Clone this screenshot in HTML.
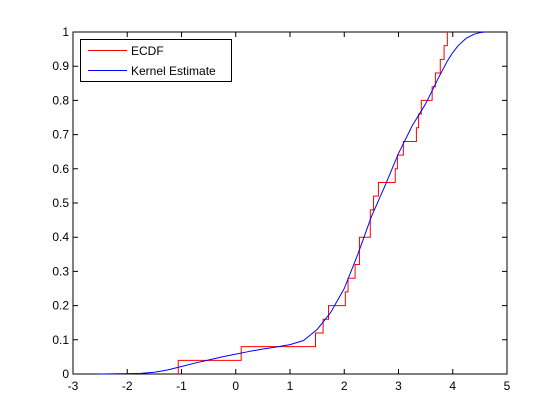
<!DOCTYPE html>
<html><head><meta charset="utf-8"><style>
body{margin:0;background:#fff;}
svg{display:block;font-family:"Liberation Sans",Arial,sans-serif;font-size:12px;}
</style></head><body>
<svg id="chart" width="560" height="420">
<rect x="0" y="0" width="560" height="420" fill="#fff"/>
<g id="plot"></g>
</svg>
<script>
const ecdfX = [-1.06,0.10,1.47,1.61,1.71,2.02,2.07,2.20,2.28,2.28,2.48,2.48,2.54,2.63,2.94,2.98,3.09,3.33,3.37,3.42,3.62,3.68,3.77,3.84,3.90];
const kernelX = [-2.5,-2.0,-1.75,-1.5,-1.25,-1.0,-0.75,-0.5,-0.25,0,0.25,0.5,0.75,1.0,1.25,1.5,1.75,2.0,2.25,2.5,2.75,3.0,3.25,3.5,3.75,3.9,4.0,4.1,4.25,4.4,4.5,4.6];
const kernelY = [0,0.001,0.002,0.005,0.012,0.022,0.032,0.041,0.05,0.058,0.066,0.073,0.079,0.086,0.098,0.13,0.18,0.25,0.35,0.46,0.55,0.645,0.725,0.79,0.87,0.915,0.94,0.96,0.982,0.994,0.998,1.0];
const xTicks = [-3,-2,-1,0,1,2,3,4,5];
const yTicks = [0,0.1,0.2,0.3,0.4,0.5,0.6,0.7,0.8,0.9,1];
const yTickLabels = ["0","0.1","0.2","0.3","0.4","0.5","0.6","0.7","0.8","0.9","1"];

const L=73,R=507,T=32,B=374;
const sx=v=>L+(v+3)/8*(R-L);
const sy=v=>B-v*(B-T);
const NS="http://www.w3.org/2000/svg";
const g=document.getElementById('plot');
function mk(tag,attrs){const e=document.createElementNS(NS,tag);for(const k in attrs)e.setAttribute(k,attrs[k]);g.appendChild(e);return e;}

const box=mk('rect',{x:L,y:T,width:R-L,height:B-T,fill:'#fff',stroke:'#000','stroke-width':1});



xTicks.forEach(t=>{
  const x=sx(t);
  const tk=mk('path',{d:`M${x},${B}v-5M${x},${T}v5`,stroke:'#000'});
  
  
  const lb=mk('text',{x:x,y:B+16,'text-anchor':'middle'});
  lb.textContent=String(t);
  
  
});
yTicks.forEach((t,i)=>{
  const y=sy(t);
  const tk=mk('path',{d:`M${L},${y}h5M${R},${y}h-5`,stroke:'#000'});
  
  
  const lb=mk('text',{x:L-4,y:y+4,'text-anchor':'end'});
  lb.textContent=yTickLabels[i];
  
  
});

let d=`M${sx(ecdfX[0])},${sy(0)}`;
ecdfX.forEach((x,i)=>{
  const yv=(i+1)/ecdfX.length;
  d+=` L${sx(x)},${sy(yv)}`;
  if(i+1<ecdfX.length) d+=` L${sx(ecdfX[i+1])},${sy(yv)}`;
});
const ec=mk('path',{d:d,fill:'none',stroke:'#f00','stroke-width':1});



const kd='M'+kernelX.map((x,i)=>`${sx(x)},${sy(kernelY[i])}`).join(' L');
const kl=mk('path',{d:kd,fill:'none',stroke:'#00f','stroke-width':1,'stroke-linejoin':'round'});



const lg=mk('rect',{x:80.5,y:39.5,width:151,height:42,fill:'#fff',stroke:'#000'});


const l1=mk('line',{x1:88,y1:50.5,x2:127,y2:50.5,stroke:'#f00'});


const t1=mk('text',{x:131,y:55});t1.textContent='ECDF';


const l2=mk('line',{x1:88,y1:70.5,x2:127,y2:70.5,stroke:'#00f'});


const t2=mk('text',{x:131,y:75});t2.textContent='Kernel Estimate';


</script>
</body></html>
